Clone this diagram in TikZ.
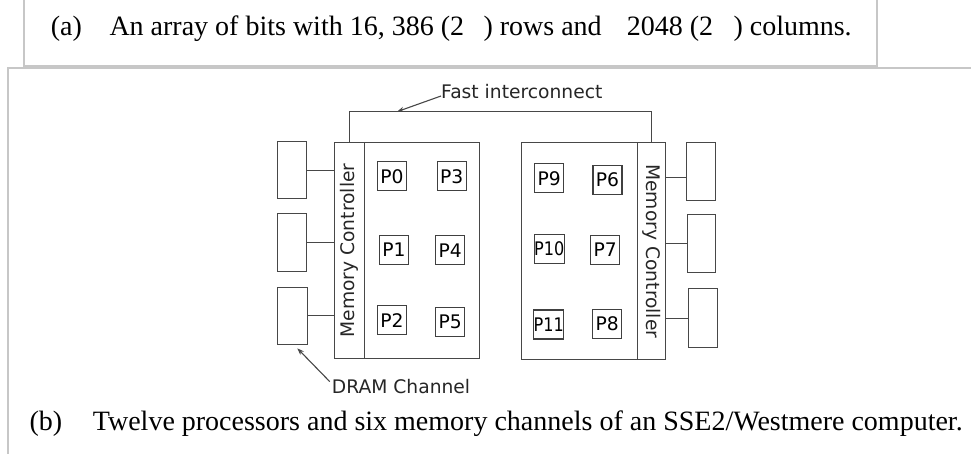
\documentclass[tikz,border=0pt]{standalone}
\usepackage{fontspec}
\setmainfont{Liberation Serif}
\newfontfamily\djv{DejaVu Sans}
\usetikzlibrary{arrows.meta}
\newcommand{\dtext}[2][1]{{\djv\fontsize{18.7}{20}\selectfont\scalebox{#1}[1]{#2}}}
\begin{document}
\begin{tikzpicture}[x=1pt,y=-1pt]
\tikzset{
 frame/.style={draw=black!22, line width=2pt},
 wire/.style={draw=black!72, line width=1.1pt},
 box/.style={draw=black!72, line width=1.1pt, inner sep=0pt, anchor=north west},
 pbox/.style={draw=black!75, line width=1.2pt, inner sep=0pt, minimum width=29pt, minimum height=29pt},
 captext/.style={inner sep=0pt, anchor=base west, font=\fontsize{28}{30}\selectfont},
 lbl/.style={inner sep=0pt, text=black!85},
 arr/.style={wire, -{Stealth[length=7pt,width=5pt]}},
}
\useasboundingbox (0,0) rectangle (971,454);
% frames
\draw[frame] (24,0) -- (24,65.7) -- (876.7,65.7) -- (876.7,0);
\draw[frame] (971,68.3) -- (8.3,68.3) -- (8.3,455);
% caption (a)
\node[captext] (a0) at (50.7,35.7) {(a)};
\node[captext] (a1) at (109.3,35.7) {An array of bits with 16, 386 (2};
\node[captext] (a2) at (483.3,35.7) {) rows and};
\node[captext] (a3) at (626.7,35.7) {2048 (2};
\node[captext] (a4) at (733.3,35.7) {) columns.};
% caption (b)
\node[captext] (b0) at (29.3,430) {(b)};
\node[captext] (b1) at (92.7,430) {Twelve processors and six memory channels of an SSE2/Westmere computer.};
% chips
\node[box, minimum width=145.3pt, minimum height=216.6pt] (chipL) at (334,141.7) {};
\node[box, minimum width=30pt, minimum height=216.6pt] (ctrlL) at (334,141.7) {};
\node[box, minimum width=144pt, minimum height=217pt] (chipR) at (521,142.3) {};
\node[box, minimum width=28.3pt, minimum height=217pt] (ctrlR) at (636.7,142.3) {};
\node[lbl, rotate=90] (mcL) at (ctrlL.center) {\dtext{Memory Controller}};
\node[lbl, rotate=-90] (mcR) at (ctrlR.center) {\dtext{Memory Controller}};
% processors
\node[pbox] (p0) at (392,176.2) {\dtext{P0}};
\node[pbox] (p3) at (451.7,176.2) {\dtext{P3}};
\node[pbox] (p1) at (394,249.7) {\dtext{P1}};
\node[pbox] (p4) at (450.3,250.3) {\dtext{P4}};
\node[pbox] (p2) at (392,320.2) {\dtext{P2}};
\node[pbox] (p5) at (450.3,321.7) {\dtext{P5}};
\node[pbox] (p9) at (549.3,178.3) {\dtext{P9}};
\node[pbox] (p6) at (607.5,179.7) {\dtext{P6}};
\node[pbox] (p10) at (549.3,249) {\dtext[0.86]{P10}};
\node[pbox] (p7) at (605.3,250) {\dtext{P7}};
\node[pbox] (p11) at (548.7,324.5) {\dtext[0.86]{P11}};
\node[pbox] (p8) at (607.2,323.8) {\dtext{P8}};
% DRAM channels
\node[box, minimum width=28.7pt, minimum height=57.3pt] (dl1) at (277.3,141) {};
\node[box, minimum width=28.7pt, minimum height=57.7pt] (dl2) at (277.3,213.3) {};
\node[box, minimum width=29.5pt, minimum height=57.3pt] (dl3) at (277.3,286.7) {};
\node[box, minimum width=28.6pt, minimum height=57.7pt] (dr1) at (686,142.3) {};
\node[box, minimum width=28.6pt, minimum height=57.7pt] (dr2) at (686.5,214) {};
\node[box, minimum width=29pt, minimum height=58.4pt] (dr3) at (687.7,288.3) {};
\draw[wire] (dl1.east) -- (dl1.east -| ctrlL.west);
\draw[wire] (dl2.east) -- (dl2.east -| ctrlL.west);
\draw[wire] (dl3.east) -- (dl3.east -| ctrlL.west);
\draw[wire] ([yshift=-6pt]dr1.west) -- ([yshift=-6pt]dr1.west -| ctrlR.east);
\draw[wire] (dr2.west) -- (dr2.west -| ctrlR.east);
\draw[wire] (dr3.west) -- (dr3.west -| ctrlR.east);
% fast interconnect
\coordinate (busR) at (651.7,111.7);
\draw[wire] (ctrlL.north) |- (busR) -- (busR |- ctrlR.north);
\node[lbl, anchor=west] (fast) at (441,92) {\dtext{Fast interconnect}};
\coordinate (fastpt) at (397,111.7);
\draw[arr] ([yshift=-4pt]fast.west) -- (fastpt);
% DRAM label
\node[lbl, anchor=west] (dram) at (331.7,387) {\dtext{DRAM Channel}};
\coordinate (dramtip) at (297.3,348.3);
\draw[arr] ([xshift=-2pt,yshift=-2pt]dram.north west) -- (dramtip);
\end{tikzpicture}
\end{document}
